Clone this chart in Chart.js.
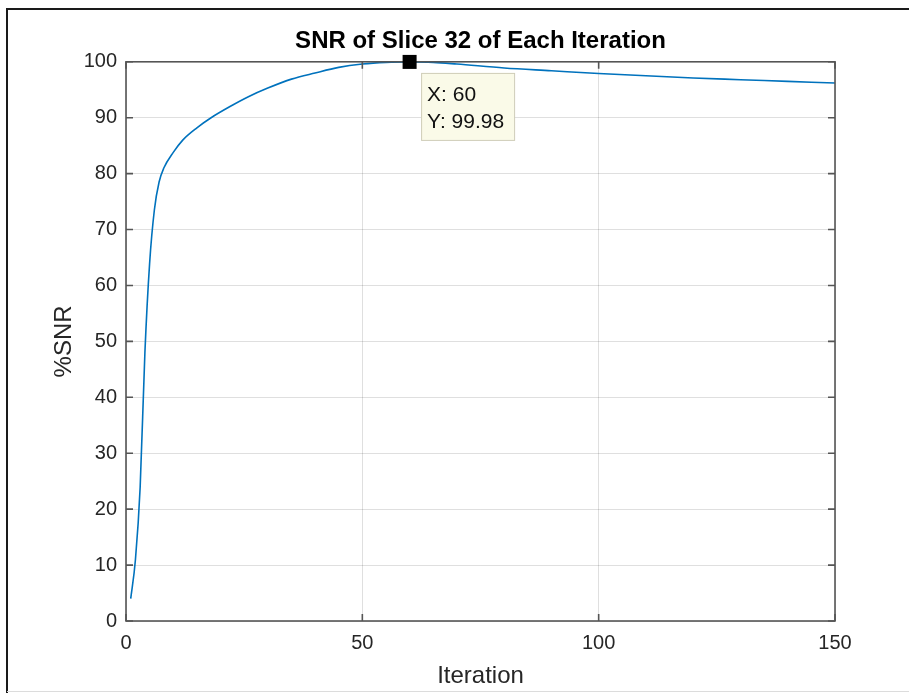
<!DOCTYPE html>
<html>
<head>
<meta charset="utf-8">
<script src="https://cdn.jsdelivr.net/npm/chart.js@4"></script>
<style>
  html, body { margin: 0; padding: 0; background: #fff; }
  #wrap { width: 909px; height: 693px; position: relative; }
</style>
</head>
<body>
<div id="wrap"><canvas id="canvas" width="909" height="693"></canvas></div>
<script>
"use strict"

// values
let iterations = [1, 2, 3, 4, 5, 6, 7, 8, 10, 12, 15, 18, 22, 26, 30, 35, 40, 45, 50, 55, 60, 65, 70, 80, 90, 100, 110, 120, 130, 140, 150];
let snr = [4, 11, 24, 48, 64, 73.5, 78.5, 81, 83.8, 86, 88.2, 90, 92, 93.8, 95.3, 96.9, 98, 99, 99.6, 99.9, 99.98, 99.9, 99.6, 98.9, 98.4, 97.9, 97.5, 97.1, 96.8, 96.5, 96.2];
let xTicks = [0, 50, 100, 150];
let yTicks = [0, 10, 20, 30, 40, 50, 60, 70, 80, 90, 100];
let tipIteration = 60;

/* Colors */
let lineBlue = "#0072bd";
let axisGray = "#555555";
let gridGray = "rgba(38, 38, 38, 0.15)";
let textDark = "#262626";
let tipFill = "#fafae8";
let tipBorder = "#cfcdb8";

let fontFamily = "'Liberation Sans', Arial, Helvetica, sans-serif";

let points = iterations.map((it, i) => ({ x: it, y: snr[i] }));
let tipIndex = iterations.indexOf(tipIteration);


// outer frame of the figure
const framePlugin = {
    id: "frame",
    beforeDraw(chart) {
        const ctx = chart.ctx;
        ctx.save();
        ctx.fillStyle = "#fff";
        ctx.fillRect(0, 0, chart.width, chart.height);
        ctx.strokeStyle = "#1a1a1a";
        ctx.lineWidth = 2;
        ctx.beginPath();
        ctx.moveTo(7, chart.height);
        ctx.lineTo(7, 9);
        ctx.lineTo(chart.width, 9);
        ctx.stroke();
        ctx.strokeStyle = "#dcdcdc";
        ctx.lineWidth = 1;
        ctx.beginPath();
        ctx.moveTo(7, 691.5);
        ctx.lineTo(chart.width, 691.5);
        ctx.stroke();
        ctx.restore();
    }
};


// axes box with inward ticks, like matlab
const boxPlugin = {
    id: "axesBox",
    afterDatasetsDraw(chart) {
        const ctx = chart.ctx;
        const a = chart.chartArea;
        const xs = chart.scales.x;
        const ys = chart.scales.y;
        ctx.save();
        ctx.strokeStyle = axisGray;
        ctx.lineWidth = 1.6;
        ctx.strokeRect(a.left, a.top, a.right - a.left, a.bottom - a.top);
        ctx.beginPath();
        xTicks.forEach(v => {
            const px = xs.getPixelForValue(v);
            ctx.moveTo(px, a.bottom);
            ctx.lineTo(px, a.bottom - 7);
            ctx.moveTo(px, a.top);
            ctx.lineTo(px, a.top + 7);
        });
        yTicks.forEach(v => {
            const py = ys.getPixelForValue(v);
            ctx.moveTo(a.left, py);
            ctx.lineTo(a.left + 7, py);
            ctx.moveTo(a.right, py);
            ctx.lineTo(a.right - 7, py);
        });
        ctx.stroke();
        ctx.restore();
    }
};


// data tip at the peak
const dataTipPlugin = {
    id: "dataTip",
    afterDraw(chart) {
        const ctx = chart.ctx;
        const px = chart.scales.x.getPixelForValue(iterations[tipIndex]);
        const py = chart.scales.y.getPixelForValue(snr[tipIndex]);
        ctx.save();
        ctx.fillStyle = "#000";
        ctx.fillRect(px - 7, py - 7, 14, 14);

        const bx = px + 11.5;
        const by = py + 11;
        const bw = 93;
        const bh = 67;
        ctx.fillStyle = tipFill;
        ctx.fillRect(bx, by, bw, bh);
        ctx.strokeStyle = tipBorder;
        ctx.lineWidth = 1;
        ctx.strokeRect(bx + 0.5, by + 0.5, bw, bh);

        ctx.fillStyle = "#111";
        ctx.font = "21px " + fontFamily;
        ctx.textBaseline = "middle";
        ctx.textAlign = "left";
        ctx.fillText("X: " + iterations[tipIndex], bx + 6, by + 22);
        ctx.fillText("Y: " + snr[tipIndex].toFixed(2), bx + 6, by + 49);
        ctx.restore();
    }
};


function createChart() {
    const canvas = document.getElementById("canvas").getContext("2d");
    const myChart = new Chart(canvas, {
        type: "line",
        data: {
            datasets: [{
                data: points,
                borderColor: lineBlue,
                borderWidth: 1.6,
                pointRadius: 0,
                fill: false,
                cubicInterpolationMode: "monotone",
            }]
        },
        options: {
            responsive: false,
            animation: false,
            layout: {
                padding: { left: 0, right: 74, top: 0, bottom: 0 }
            },
            scales: {
                x: {
                    type: "linear",
                    min: 0,
                    max: 150,
                    afterFit: scale => { scale.height = 72; },
                    afterBuildTicks: scale => { scale.ticks = xTicks.map(v => ({ value: v })); },
                    grid: {
                        color: gridGray,
                        drawTicks: false,
                        lineWidth: 1,
                    },
                    border: { display: false },
                    ticks: {
                        padding: 10,
                        color: textDark,
                        maxRotation: 0,
                        font: { family: fontFamily, size: 20 }
                    },
                    title: {
                        display: true,
                        text: "Iteration",
                        color: textDark,
                        padding: { top: 0, bottom: 2 },
                        font: { family: fontFamily, size: 24 }
                    }
                },
                y: {
                    type: "linear",
                    min: 0,
                    max: 100,
                    afterFit: scale => { scale.width = 126; },
                    afterBuildTicks: scale => { scale.ticks = yTicks.map(v => ({ value: v })); },
                    grid: {
                        color: gridGray,
                        drawTicks: false,
                        lineWidth: 1,
                    },
                    border: { display: false },
                    ticks: {
                        padding: 9,
                        color: textDark,
                        font: { family: fontFamily, size: 20 }
                    },
                    title: {
                        display: true,
                        text: "%SNR",
                        color: textDark,
                        padding: { top: 50, bottom: 0 },
                        font: { family: fontFamily, size: 24 }
                    }
                },
            },
            plugins: {
                legend: { display: false },
                tooltip: { enabled: false },
                title: {
                    display: true,
                    fullSize: false,
                    text: "SNR of Slice 32 of Each Iteration",
                    color: "#000",
                    padding: { top: 27, bottom: 6 },
                    font: { family: fontFamily, size: 24, weight: "bold" }
                }
            }
        },
        plugins: [framePlugin, boxPlugin, dataTipPlugin]
    });
}

createChart();
</script>
</body>
</html>
